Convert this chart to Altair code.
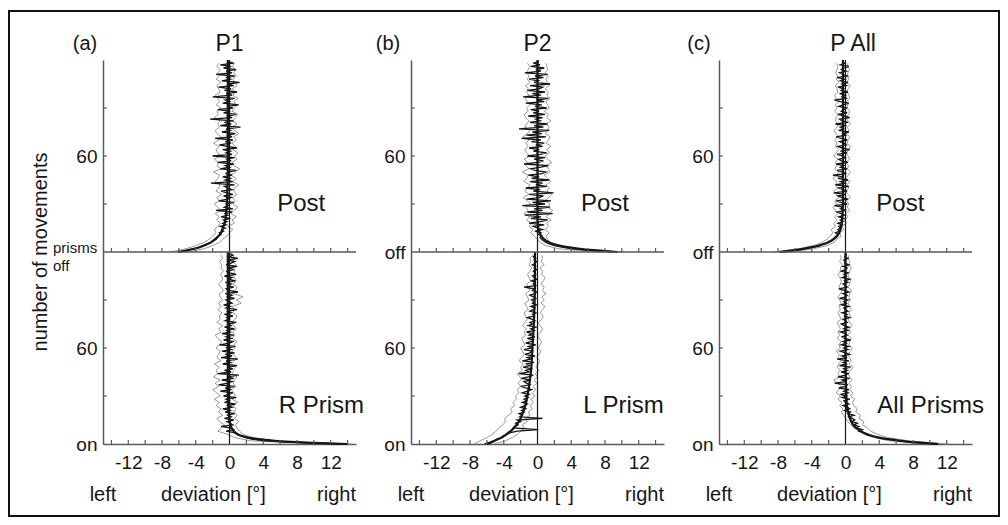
import altair as alt
import pandas as pd

FONT = "Liberation Sans"
AXIS_GREY = "#5a5a5a"
TRACE_GREY = "#8f8f8f"
INK = "#161616"

X_DOMAIN = [-15, 15]
Y_DOMAIN = [0, 240]
HALF = 120
X_LABEL_VALUES = [-12, -8, -4, 0, 4, 8, 12]
X_MINOR_TICKS = [-14, -12, -10, -8, -6, -4, -2, 2, 4, 6, 8, 10, 12, 14]
Y_LABEL_VALUES = [0, 60, 120, 180]
Y_MINOR_TICKS = [30, 60, 90, 150, 180, 210]

PANEL_W, PANEL_H = 253, 384

mean_n = list(range(120))
band_n = list(range(0, 120, 2))
fit_n = [0, 1, 2, 3, 4, 5, 6, 8, 10, 12, 15, 20, 25, 30, 40, 50, 60, 80, 100, 120]

# ---------------- panel (a) P1 ----------------
A_PRISM_MEAN = [13.5, 7.8, 4.2, 2.7, 1.9, 1.3, 0.9, 0.7, -0.4, 0.5,
                0.2, -1.0, 0.4, 0.1, -0.3, 0.5, -0.6, 0.2, -0.2, 0.6,
                -0.5, 0.1, -0.8, 0.3, -0.2, 0.7, -0.6, 0.0, -0.4, 0.8,
                -0.7, -0.1, 0.4, -1.1, 0.2, -0.5, 0.6, -1.3, -0.2, 0.3,
                -0.9, 0.5, -0.3, 1.1, -1.4, 0.2, -0.6, 0.4, -0.2, 0.9,
                -0.8, 0.1, -0.4, 1.0, -1.0, 0.3, -0.5, 0.6, -0.9, 0.2,
                -0.3, 0.7, -1.2, 0.0, 0.4, -0.7, 0.2, -0.4, 0.5, -0.9,
                0.1, -0.3, 0.6, -0.6, 0.2, -0.1, 0.8, -0.5, 0.0, -0.3,
                0.4, -0.6, 0.2, -0.2, 0.9, -0.4, 0.1, -0.7, 0.3, 0.0,
                -0.4, 0.6, -0.2, 0.3, -0.5, 1.0, -0.1, -0.4, 0.5, -0.2,
                0.2, -0.5, 0.7, -0.1, 0.3, -0.6, 0.8, 0.0, -0.3, 0.5,
                -0.2, 0.9, -0.4, 0.2, 0.6, -0.3, 1.0, -0.1, 0.4, 0.1]
A_PRISM_HI = [14.5, 5.5, 2.8, 1.6, 1.2, 0.9, 0.7, 1.1, 0.6, 0.9, 0.5, 0.8, 0.4, 1.0, 0.3,
              0.7, 0.5, 0.2, 0.8, 0.4, 0.6, 0.9, 0.3, 0.5, 0.7, 0.2, 0.6, 0.8, 0.4, 0.3,
              0.7, 0.5, 0.9, 0.3, 0.6, 0.4, 0.8, 0.5, 0.2, 0.7, 0.9, 0.4, 0.6, 0.3, 1.4,
              0.8, 1.6, 0.5, 0.7, 0.9, 0.4, 0.8, 0.6, 0.3, 0.7, 0.5, 0.8, 0.4, 0.6, 0.5]
A_PRISM_LO = [12.0, 2.5, 0.6, -0.2, -1.4, -1.0, -0.6, -1.2, -1.5, -0.8, -1.3, -1.0, -1.6, -1.2, -1.8,
              -1.1, -1.5, -2.0, -1.3, -1.7, -1.1, -1.9, -1.4, -1.6, -1.2, -1.8, -1.0, -1.5, -1.3, -1.1,
              -1.6, -1.2, -0.9, -1.4, -1.7, -1.0, -1.3, -0.8, -1.5, -1.1, -1.2, -0.9, -1.4, -1.0, -1.3,
              -0.8, -1.1, -1.2, -0.7, -1.0, -1.3, -0.9, -0.8, -1.1, -0.7, -1.0, -0.9, -1.2, -0.8, -1.0]
A_PRISM_FIT = [14.0, 8.5, 5.3, 3.4, 2.2, 1.5, 1.0, 0.5, 0.25, 0.1, 0.0, -0.1, -0.15, -0.2, -0.2,
               -0.2, -0.2, -0.2, -0.2, -0.2]

A_POST_MEAN = [-6.2, -5.0, -4.3, -3.6, -3.1, -2.7, -2.2, -1.9, -1.6, -1.5,
               -1.3, -1.0, -1.2, -0.7, -0.9, -0.5, -1.1, -0.4, -0.8, -0.3,
               -0.7, 0.1, -1.0, -0.2, -0.5, 0.3, -1.6, 0.4, -0.6, -0.1,
               -0.4, 0.5, -1.3, -0.2, 0.2, -0.7, 0.4, -0.3, -1.0, 0.3,
               -0.2, -0.6, 0.6, -2.2, 0.4, -0.5, 0.1, -0.8, 0.3, -0.4,
               -0.1, 0.8, -1.1, 0.0, -0.5, 0.5, -1.4, 0.2, -0.3, 0.6,
               -2.0, 0.3, -0.4, 0.1, -0.8, 0.9, -0.3, -1.2, 0.2, -0.5,
               0.4, -1.7, 0.3, -0.2, 0.7, -0.9, 0.1, -0.4, 1.3, -1.1,
               0.2, -0.6, 0.5, -2.3, 0.3, -0.2, 0.8, -0.7, 0.1, -1.4,
               0.4, -0.3, 1.1, -0.8, 0.0, -0.5, 0.6, -2.0, 0.3, -0.4,
               0.9, -0.6, 0.2, -1.3, 0.5, -0.2, 1.2, -0.9, 0.1, -0.3,
               0.6, -1.6, 0.3, -0.4, 0.8, -0.7, 0.2, -1.1, 0.5, -0.2]
A_POST_HI = [-5.0, -3.0, -2.0, -1.2, -0.8, -0.3, 0.0, 0.4, -0.2, 0.6, 0.3, 0.8, 0.2, 0.5, 1.0,
             0.4, 0.7, 0.3, 0.9, 0.5, 0.6, 1.1, 0.4, 0.8, 0.2, 0.7, 1.2, 0.5, 0.3, 0.9,
             0.6, 1.0, 0.4, 0.7, 0.3, 0.8, 0.5, 1.1, 0.6, 0.2, 0.9, 0.4, 0.7, 1.0, 0.3,
             0.6, 0.8, 0.5, 1.0, 0.4, 0.7, 0.3, 0.9, 0.6, 0.4, 0.8, 0.5, 0.7, 0.3, 0.6]
A_POST_LO = [-7.0, -5.2, -4.0, -3.0, -2.4, -2.0, -1.6, -1.8, -1.4, -1.1, -1.5, -1.2, -1.7, -1.0, -1.4,
             -1.8, -1.2, -1.5, -0.9, -1.6, -1.3, -1.1, -1.7, -1.4, -1.2, -1.9, -1.0, -1.5, -1.3, -1.8,
             -1.1, -1.4, -1.6, -1.2, -1.9, -1.3, -1.0, -1.5, -1.7, -1.2, -1.4, -1.1, -1.8, -1.3, -1.5,
             -1.0, -1.6, -1.2, -1.4, -1.7, -1.1, -1.3, -1.5, -1.0, -1.6, -1.2, -1.4, -1.1, -1.5, -1.3]
A_POST_FIT = [-6.0, -5.0, -4.2, -3.5, -3.0, -2.6, -2.2, -1.7, -1.3, -1.0, -0.8, -0.5, -0.4, -0.3,
              -0.25, -0.2, -0.2, -0.2, -0.2, -0.2]

# ---------------- panel (b) P2 ----------------
B_PRISM_MEAN = [-6.3, -5.7, -5.1, -4.8, -4.2, -3.9, -3.6, -3.3, -2.4, 0.1,
                -2.9, -2.7, -2.3, -2.6, -2.0, -2.4, 0.6, -2.1, -1.8, -2.2,
                -1.6, -1.9, -1.4, -2.0, -1.5, -1.2, -1.8, -1.3, -1.6, -1.1,
                -1.5, -1.0, -1.8, -1.2, -0.7, -1.4, -2.0, -0.9, -1.3, -1.6,
                -0.8, -1.9, -1.1, -0.5, -2.2, -1.0, -1.4, -0.6, -1.7, -0.9,
                -1.3, -0.4, -1.8, -0.8, -1.2, -0.3, -1.5, -0.9, -0.6, -1.6,
                -0.7, -1.1, -0.2, -1.4, -0.8, -0.5, -1.2, -0.3, -1.0, -0.6,
                -1.3, -0.4, -0.8, -0.2, -1.1, -0.6, -0.9, -0.3, -0.7, -1.2,
                -0.4, -0.6, -0.2, -0.9, -0.5, -0.3, -0.8, -0.1, -0.6, -0.4,
                -0.7, -0.2, -0.5, -0.9, -0.3, -0.1, -0.6, -0.4, -1.6, -0.2,
                -0.5, -0.3, -0.7, -0.1, -0.4, -0.6, -0.2, -0.3, -0.5, -0.1,
                -0.4, -0.2, -0.6, -0.3, -0.1, -0.4, -0.2, -0.5, -0.3, -0.2]
B_PRISM_HI = [-5.2, -3.8, -3.0, -2.4, -2.0, -1.6, -1.8, -1.2, -1.4, -0.9, -1.1, -0.6, -0.9, -0.5, -0.8,
              -0.3, -0.6, -0.2, -0.5, -0.1, -0.4, 0.0, -0.3, 0.2, -0.2, 0.1, 0.3, -0.1, 0.2, 0.4,
              0.1, 0.3, 0.5, 0.2, 0.0, 0.4, 0.6, 0.3, 0.1, 0.5, 0.7, 0.3, 0.6, 0.9, 0.4,
              0.8, 0.5, 1.0, 0.6, 0.8, 0.4, 0.7, 0.9, 0.5, 0.6, 0.3, 0.8, 0.4, 0.6, 0.5]
B_PRISM_LO = [-7.5, -6.8, -6.0, -5.4, -4.9, -4.6, -4.1, -3.8, -3.9, -3.4, -3.0, -3.2, -2.7, -2.9, -2.5,
              -2.6, -2.2, -2.4, -2.0, -2.3, -1.9, -2.1, -2.4, -1.8, -2.0, -1.7, -2.2, -1.9, -1.6, -1.8,
              -2.0, -1.5, -1.7, -1.9, -1.4, -1.6, -1.3, -1.8, -1.5, -1.2, -1.4, -1.6, -1.1, -1.3, -1.5,
              -1.0, -1.2, -1.4, -0.9, -1.1, -1.3, -0.8, -1.0, -1.2, -0.9, -0.7, -1.0, -0.8, -0.9, -0.6]
B_PRISM_FIT = [-6.0, -5.5, -5.1, -4.7, -4.3, -4.0, -3.7, -3.2, -2.8, -2.5, -2.1, -1.7, -1.4, -1.2,
               -0.9, -0.7, -0.6, -0.4, -0.3, -0.3]

B_POST_MEAN = [9.5, 6.4, 4.2, 2.9, 2.0, 1.4, 1.0, 0.7, 0.5, 0.3,
               0.5, 0.1, 0.4, -0.3, 0.6, 0.0, -0.5, 0.8, -1.0, 0.3,
               1.2, -0.8, 0.4, -1.5, 1.8, -1.2, 0.6, -0.4, 1.5, -1.8,
               0.9, -0.6, 1.6, -1.3, 0.2, 0.7, -1.0, 1.9, -0.5, 0.3,
               -1.4, 1.1, -0.2, 0.6, -0.9, 1.4, -0.7, 0.2, -1.1, 0.5,
               1.0, -0.3, -0.8, 0.4, 1.3, -1.6, 0.1, 0.7, -0.4, 0.9,
               -1.2, 0.3, 1.1, -0.5, 0.2, -1.0, 0.6, -0.2, 0.8, -0.7,
               0.4, -1.9, 1.0, -1.3, 0.5, -0.6, 1.4, -2.2, 0.7, -0.4,
               1.2, -0.9, 0.3, -0.2, 0.6, -1.1, 0.9, -0.5, 0.2, -0.8,
               1.1, -0.3, 0.5, -1.4, 0.8, -0.1, 1.3, -1.7, 0.4, -0.6,
               0.9, -1.2, 0.2, 0.6, -0.9, 1.5, -0.4, 0.1, -1.0, 0.7,
               -0.3, 1.2, -1.5, 0.4, -0.2, 0.8, -0.8, 0.3, -0.5, 0.2]
B_POST_HI = [10.3, 4.0, 2.2, 1.5, 1.2, 1.0, 1.4, 0.9, 1.3, 1.1, 1.6, 1.0, 1.4, 1.8, 1.2,
             1.5, 0.9, 1.3, 1.7, 1.1, 1.4, 1.0, 1.6, 1.2, 0.8, 1.5, 1.3, 1.0, 1.7, 1.2,
             0.9, 1.4, 1.1, 1.6, 1.0, 1.3, 1.5, 0.9, 1.2, 1.4, 1.0, 1.6, 1.1, 1.3, 0.8,
             1.4, 1.2, 1.0, 1.5, 1.1, 1.3, 0.9, 1.4, 1.2, 1.0, 1.3, 0.9, 1.2, 1.1, 1.0]
B_POST_LO = [7.5, 2.5, 1.0, 0.3, 0.0, -0.4, -0.8, -0.5, -1.0, -0.7, -1.3, -0.9, -1.6, -1.1, -1.4,
             -0.8, -1.2, -1.7, -1.0, -1.5, -1.2, -0.9, -1.6, -1.3, -1.1, -1.8, -1.0, -1.4, -1.2, -1.6,
             -0.9, -1.3, -1.5, -1.1, -1.4, -1.0, -1.7, -1.2, -0.9, -1.5, -1.3, -1.0, -1.4, -1.6, -1.1,
             -1.3, -0.9, -1.2, -1.5, -1.0, -1.3, -1.1, -1.4, -0.9, -1.2, -1.0, -1.3, -1.1, -0.9, -1.2]
B_POST_FIT = [9.5, 7.0, 5.0, 3.6, 2.6, 1.9, 1.4, 0.8, 0.45, 0.25, 0.1, 0.0, 0.0, 0.0, 0.0,
              0.0, 0.0, 0.0, 0.0, 0.0]

# ---------------- panel (c) P All ----------------
C_PRISM_MEAN = [11.0, 8.2, 6.4, 4.9, 3.8, 3.2, 2.6, 2.2, 1.6, 2.0,
                1.3, 1.6, 1.0, 1.4, 0.7, 1.1, 0.8, 0.4, 1.0, 0.3,
                0.6, -0.1, 0.5, 0.2, -0.3, 0.4, 0.0, -0.2, 0.5, -0.4,
                0.1, -0.6, 0.3, -0.2, 0.4, -0.8, 0.0, 0.2, -1.3, 0.1,
                -0.4, 0.5, -0.9, 0.0, 0.3, -0.5, 0.2, -0.2, 0.6, -0.7,
                0.1, -0.3, 0.4, -1.0, 0.2, -0.4, 0.5, 0.0, -0.6, 0.3,
                -0.2, 0.4, -0.5, 0.1, -0.3, 0.6, -0.1, -0.4, 0.2, 0.0,
                -0.6, 0.3, -0.2, 0.4, -0.1, -0.5, 0.2, 0.0, -0.3, 0.5,
                -0.1, 0.2, -0.4, 0.3, 0.0, -0.2, 0.4, -0.5, 0.1, -0.2,
                0.3, -0.7, 0.0, 0.2, -0.3, 0.4, -0.1, -0.8, 0.2, 0.0,
                -0.3, 0.3, -0.1, 0.5, -0.4, 0.1, -0.2, 0.3, -0.5, 0.0,
                0.2, -0.3, 0.4, -0.1, 0.0, -0.2, 0.3, -0.1, 0.1, 0.0]
C_PRISM_HI = [12.2, 7.5, 5.0, 3.8, 3.0, 2.6, 2.0, 2.2, 1.6, 1.8, 1.2, 1.4, 1.0, 0.8, 1.1,
              0.6, 0.9, 0.5, 0.7, 0.4, 0.8, 0.5, 0.3, 0.6, 0.9, 0.4, 0.7, 0.5, 0.3, 0.6,
              0.8, 0.4, 0.5, 0.7, 0.3, 0.6, 0.4, 0.8, 0.5, 0.3, 0.6, 0.4, 0.7, 0.5, 0.3,
              0.6, 0.4, 0.5, 0.7, 0.3, 0.5, 0.6, 0.4, 0.3, 0.5, 0.7, 0.4, 0.5, 0.3, 0.4]
C_PRISM_LO = [9.8, 5.2, 3.4, 2.2, 1.6, 1.0, 0.6, 0.3, 0.0, -0.2, -0.5, -0.3, -0.7, -0.4, -0.9,
              -0.6, -1.1, -0.8, -0.5, -1.0, -1.4, -0.7, -0.9, -0.6, -1.0, -0.8, -0.5, -0.9, -0.7, -1.1,
              -0.6, -0.8, -0.5, -1.0, -0.7, -0.9, -0.6, -0.8, -1.0, -0.5, -0.7, -0.9, -0.6, -0.8, -0.5,
              -0.7, -0.9, -0.6, -0.4, -0.8, -0.6, -0.5, -0.7, -0.9, -0.5, -0.6, -0.4, -0.7, -0.5, -0.6]
C_PRISM_FIT = [11.0, 8.4, 6.5, 5.1, 4.0, 3.2, 2.6, 1.8, 1.3, 0.9, 0.6, 0.3, 0.15, 0.1, 0.05,
               0.0, 0.0, 0.0, 0.0, 0.0]

C_POST_MEAN = [-7.8, -6.0, -4.9, -3.8, -3.0, -2.5, -2.0, -1.7, -1.5, -1.3,
               -1.1, -0.9, -1.2, -0.7, -0.9, -0.6, -0.8, -0.4, -0.9, -0.3,
               -0.6, -0.2, -0.8, -0.1, -0.5, -1.0, 0.1, -0.6, -0.3, -1.3,
               0.2, -0.5, -1.1, 0.3, -0.4, -0.9, 0.0, -1.4, 0.2, -0.3,
               -0.8, 0.4, -1.2, -0.1, -0.6, 0.3, -0.9, -0.2, -1.5, 0.1,
               -0.4, -1.0, 0.2, -0.6, -0.2, -1.1, 0.3, -0.5, -0.8, 0.0,
               -0.3, -1.0, 0.2, -0.6, 0.5, -0.4, -0.9, 0.1, -0.2, -0.7,
               0.2, -0.5, -1.1, 0.0, -0.3, 0.4, -0.8, -0.2, -0.6, 0.1,
               -1.2, 0.3, -0.4, -0.7, 0.5, -0.1, -0.9, 0.2, -0.5, -0.2,
               0.1, -0.8, -0.3, 0.4, -0.6, -1.3, 0.2, -0.4, 0.0, -0.7,
               0.3, -0.5, -0.2, -0.9, 0.1, -0.4, 0.3, -0.6, -0.1, -1.0,
               0.2, -0.3, -0.7, 0.1, -0.5, -0.2, 0.4, -0.6, -0.1, -0.3]
C_POST_HI = [-6.8, -3.8, -2.2, -1.4, -1.0, -0.5, -0.7, -0.2, -0.4, 0.1, -0.2, 0.3, 0.0, 0.5, 0.2,
             0.4, 0.1, 0.6, 0.3, 0.0, 0.4, 0.2, 0.5, 0.1, 0.3, 0.6, 0.2, 0.4, 0.0, 0.5,
             0.3, 0.1, 0.4, 0.6, 0.2, 0.3, 0.5, 0.1, 0.4, 0.2, 0.6, 0.3, 0.0, 0.4, 0.5,
             0.2, 0.3, 0.1, 0.5, 0.4, 0.2, 0.3, 0.6, 0.1, 0.4, 0.2, 0.3, 0.5, 0.2, 0.3]
C_POST_LO = [-8.6, -5.6, -3.8, -2.8, -2.2, -1.8, -1.5, -1.7, -1.2, -1.4, -1.0, -1.3, -0.9, -1.2, -1.5,
             -1.0, -1.3, -0.8, -1.1, -1.4, -0.9, -1.2, -1.0, -1.5, -1.1, -0.8, -1.3, -1.0, -1.2, -0.9,
             -1.4, -1.1, -0.8, -1.2, -1.0, -1.3, -0.9, -1.1, -1.4, -1.0, -0.8, -1.2, -1.1, -0.9, -1.3,
             -1.0, -1.2, -0.8, -1.1, -1.3, -0.9, -1.0, -1.2, -0.8, -1.1, -0.9, -1.2, -1.0, -0.9, -1.1]
C_POST_FIT = [-7.8, -6.2, -5.0, -4.0, -3.2, -2.6, -2.1, -1.4, -1.0, -0.75, -0.55, -0.4, -0.35, -0.3,
              -0.3, -0.3, -0.3, -0.3, -0.3, -0.3]

PANELS = [
    dict(tag="(a)", tag_px=-18, title="P1", title_x=0.0, off_label="",
         prism_label="R Prism", prism_x=10.9, post_x=8.5,
         prism=dict(mean=A_PRISM_MEAN, hi=A_PRISM_HI, lo=A_PRISM_LO, fit=A_PRISM_FIT),
         post=dict(mean=A_POST_MEAN, hi=A_POST_HI, lo=A_POST_LO, fit=A_POST_FIT)),
    dict(tag="(b)", tag_px=-23, title="P2", title_x=0.0, off_label="off",
         prism_label="L Prism", prism_x=10.2, post_x=8.0,
         prism=dict(mean=B_PRISM_MEAN, hi=B_PRISM_HI, lo=B_PRISM_LO, fit=B_PRISM_FIT),
         post=dict(mean=B_POST_MEAN, hi=B_POST_HI, lo=B_POST_LO, fit=B_POST_FIT)),
    dict(tag="(c)", tag_px=-20, title="P All", title_x=0.9, off_label="off",
         prism_label="All Prisms", prism_x=10.1, post_x=6.5,
         prism=dict(mean=C_PRISM_MEAN, hi=C_PRISM_HI, lo=C_PRISM_LO, fit=C_PRISM_FIT),
         post=dict(mean=C_POST_MEAN, hi=C_POST_HI, lo=C_POST_LO, fit=C_POST_FIT)),
]

XS = alt.Scale(domain=X_DOMAIN, nice=False, zero=False)
YS = alt.Scale(domain=Y_DOMAIN, nice=False, zero=False)

X_AXIS = alt.Axis(values=X_LABEL_VALUES, labelExpr="'' + datum.value", ticks=False, grid=False,
                  title=None, labelFontSize=19, labelFont=FONT, labelColor=INK, labelPadding=9,
                  domainColor=AXIS_GREY, domainWidth=1.5, labelFlush=False)


def y_axis(off_label):
    expr = ("datum.value == 0 ? 'on' : datum.value == 120 ? '%s' : '60'" % off_label)
    return alt.Axis(values=Y_LABEL_VALUES, labelExpr=expr, ticks=False, grid=False, title=None,
                    labelFontSize=19, labelFont=FONT, labelColor=INK, labelPadding=6,
                    domainColor=AXIS_GREY, domainWidth=1.5, labelFlush=False, labelOverlap=False)


def trace_frames(p):
    rows = {"band": [], "mean": [], "fit": []}
    for half, offset in (("prism", 0), ("post", HALF)):
        d = p[half]
        for n, v in zip(mean_n, d["mean"]):
            rows["mean"].append(dict(series=half + "-mean", y=n + offset, dev=v))
        for key in ("hi", "lo"):
            for n, v in zip(band_n, d[key]):
                rows["band"].append(dict(series=half + "-" + key, y=n + offset, dev=v))
        for n, v in zip(fit_n, d["fit"]):
            rows["fit"].append(dict(series=half + "-fit", y=n + offset, dev=v))
    return {k: pd.DataFrame(v) for k, v in rows.items()}


def panel_chart(p, first):
    yax = y_axis(p["off_label"])
    X = lambda f="dev": alt.X(f + ":Q", scale=XS, axis=X_AXIS)
    Y = lambda f="y": alt.Y(f + ":Q", scale=YS, axis=yax)
    fr = trace_frames(p)

    band = alt.Chart(fr["band"]).mark_line(color=TRACE_GREY, strokeWidth=0.9).encode(
        x=X(), y=Y(), detail="series:N", order="y:Q")
    mean = alt.Chart(fr["mean"]).mark_line(color=INK, strokeWidth=1.3).encode(
        x=X(), y=Y(), detail="series:N", order="y:Q")
    fit = alt.Chart(fr["fit"]).mark_line(color=INK, strokeWidth=2.2, interpolate="monotone").encode(
        x=X(), y=Y(), detail="series:N", order="y:Q")

    zero = alt.Chart(pd.DataFrame({"dev": [0], "y": [Y_DOMAIN[0]], "y2": [Y_DOMAIN[1]]})).mark_rule(
        color=INK, strokeWidth=1.2).encode(x=X(), y=Y(), y2="y2:Q")
    offline = alt.Chart(pd.DataFrame({"dev": [X_DOMAIN[0]], "dev2": [X_DOMAIN[1]], "y": [HALF]})).mark_rule(
        color=AXIS_GREY, strokeWidth=1.5).encode(x=X(), x2="dev2:Q", y=Y())

    xt = pd.DataFrame([dict(dev=v, y=b, y2=b + 2.5) for b in (0, HALF) for v in X_MINOR_TICKS])
    xticks = alt.Chart(xt).mark_rule(color=AXIS_GREY, strokeWidth=1.2).encode(x=X(), y=Y(), y2="y2:Q")
    yt = pd.DataFrame([dict(dev=X_DOMAIN[0], dev2=X_DOMAIN[0] + 0.45, y=v) for v in Y_MINOR_TICKS])
    yticks = alt.Chart(yt).mark_rule(color=AXIS_GREY, strokeWidth=1.2).encode(x=X(), x2="dev2:Q", y=Y())

    def txt(df, size, align="center", **enc):
        return alt.Chart(df).mark_text(font=FONT, fontSize=size, color=INK, align=align,
                                       baseline="middle").encode(text="t:N", **enc)

    title = txt(pd.DataFrame({"dev": [p["title_x"]], "t": [p["title"]]}), 23,
                x=X(), y=alt.value(-16))
    tag = txt(pd.DataFrame({"t": [p["tag"]]}), 20, x=alt.value(p["tag_px"]), y=alt.value(-16))
    post = txt(pd.DataFrame({"dev": [p["post_x"]], "y": [150], "t": ["Post"]}), 24, x=X(), y=Y())
    prism = txt(pd.DataFrame({"dev": [p["prism_x"]], "y": [24], "t": [p["prism_label"]]}), 24, x=X(), y=Y())
    left = txt(pd.DataFrame({"dev": [X_DOMAIN[0]], "t": ["left"]}), 20, x=X(), y=alt.value(435))
    devl = txt(pd.DataFrame({"dev": [-1.9], "t": ["deviation [°]"]}), 20, x=X(), y=alt.value(435))
    right = txt(pd.DataFrame({"dev": [X_DOMAIN[1]], "t": ["right"]}), 20, align="right",
                x=X(), y=alt.value(435))

    layers = [band, mean, fit, zero, offline, xticks, yticks, title, tag, post, prism, left, devl, right]

    if first:
        ytitle = alt.Chart(pd.DataFrame({"t": ["number of movements"]})).mark_text(
            font=FONT, fontSize=20, color=INK, angle=270, align="center", baseline="middle").encode(
            text="t:N", x=alt.value(-62), y=alt.value(192))
        prisms = txt(pd.DataFrame({"t": ["prisms"]}), 15, align="left", x=alt.value(-50), y=alt.value(188))
        off = txt(pd.DataFrame({"t": ["off"]}), 15, align="left", x=alt.value(-50), y=alt.value(206))
        frame = alt.Chart(pd.DataFrame({"a": [0]})).mark_rect(
            fillOpacity=0, stroke="#111111", strokeWidth=2).encode(
            x=alt.value(-94), x2=alt.value(896), y=alt.value(-49), y2=alt.value(456))
        layers = [frame] + layers + [ytitle, prisms, off]

    return alt.layer(*layers).properties(width=PANEL_W, height=PANEL_H)


charts = [panel_chart(p, i == 0) for i, p in enumerate(PANELS)]

chart = alt.hconcat(*charts, spacing=55, bounds="flush").properties(
    padding={"left": 0, "top": 2, "right": 0, "bottom": 0},
    background="white",
).configure_view(stroke=None)

chart.save("out.html", embed_options={"renderer": "svg", "actions": False})
